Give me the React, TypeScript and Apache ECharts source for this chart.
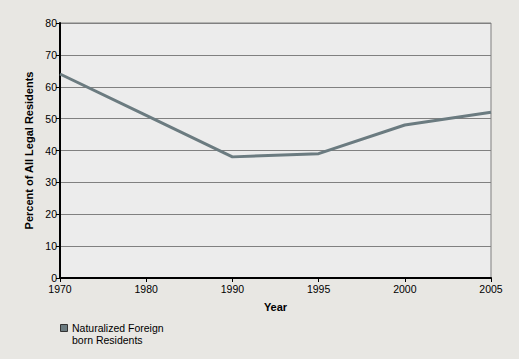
import React, { useEffect, useRef } from "react";
import * as echarts from "echarts";

const years = ["1970", "1980", "1990", "1995", "2000", "2005"];
const naturalized = [64, 51, 38, 39, 48, 52];
const seriesName = "Naturalized Foreign\nborn Residents";
const yTitle = "Percent of All Legal Residents";
const xTitle = "Year";

export default function App() {
  const ref = useRef<HTMLDivElement>(null);
  useEffect(() => {
    const chart = echarts.init(ref.current!, null, { renderer: "svg" });
    const font = "'Liberation Sans', Arial, sans-serif";
    const lineColor = "#6b7b80";
    chart.setOption({
      animation: false,
      backgroundColor: "#e8e7e3",
      textStyle: { fontFamily: font },
      grid: {
        left: 60,
        right: 28,
        top: 23,
        bottom: 81,
        show: true,
        backgroundColor: "#ececec",
        borderColor: "#808080",
        borderWidth: 1,
      },
      legend: { show: false, data: [seriesName] },
      graphic: [
        {
          type: "rect",
          left: 60,
          top: 324,
          shape: { width: 7, height: 7 },
          style: { fill: lineColor, stroke: "#333", lineWidth: 1 },
        },
        {
          type: "text",
          left: 72,
          top: 322,
          style: {
            text: seriesName,
            fontFamily: font,
            fontSize: 10.5,
            lineHeight: 12,
            fill: "#000",
          },
        },
      ],
      xAxis: {
        type: "category",
        data: years,
        boundaryGap: false,
        name: xTitle,
        nameLocation: "middle",
        nameGap: 23,
        nameTextStyle: { fontFamily: font, fontSize: 11, fontWeight: "bold", color: "#000" },
        axisLine: { show: true, lineStyle: { color: "#000", width: 2 } },
        axisTick: { show: true, length: 4, lineStyle: { color: "#000", width: 1 } },
        axisLabel: { fontFamily: font, fontSize: 10.5, color: "#000", margin: 5 },
        splitLine: { show: false },
      },
      yAxis: {
        type: "value",
        min: 0,
        max: 80,
        interval: 10,
        name: yTitle,
        nameLocation: "middle",
        nameGap: 26,
        nameTextStyle: { fontFamily: font, fontSize: 11, fontWeight: "bold", color: "#000" },
        axisLine: { show: true, lineStyle: { color: "#000", width: 2 } },
        axisTick: { show: true, length: 4, lineStyle: { color: "#000", width: 1 } },
        axisLabel: { fontFamily: font, fontSize: 10.5, color: "#000", margin: 3 },
        splitLine: { show: true, lineStyle: { color: "#808080", width: 1 } },
      },
      series: [
        {
          name: seriesName,
          type: "line",
          data: naturalized,
          showSymbol: false,
          symbol: "none",
          color: lineColor,
          lineStyle: { color: lineColor, width: 3 },
          itemStyle: { color: lineColor },
        },
      ],
    });
    return () => chart.dispose();
  }, []);
  return <div ref={ref} style={{ width: 519, height: 359, position: "absolute", left: 0, top: 0 }} />;
}
